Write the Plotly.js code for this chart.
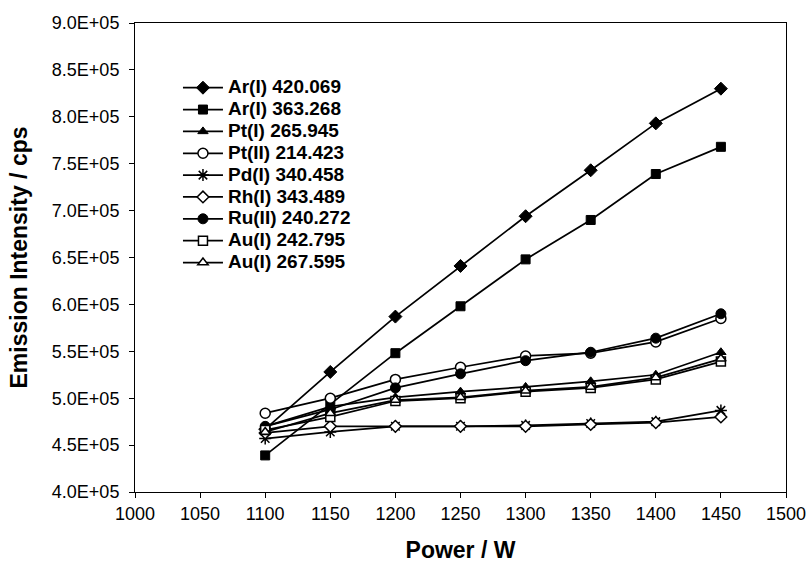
<!DOCTYPE html>
<html>
<head>
<meta charset="utf-8">
<script src="https://cdn.plot.ly/plotly-3.0.1.min.js"></script>
<style>html,body{margin:0;padding:0;background:#fff;}#chart{width:810px;height:563px;}</style>
</head>
<body>
<div id="chart"></div>
<script>
// Data
var power = [1100, 1150, 1200, 1250, 1300, 1350, 1400, 1450];
var ar420 = [467000, 528000, 587000, 641000, 694000, 743000, 793000, 830000];
var ar363 = [439000, 493000, 548000, 598000, 648000, 690000, 739000, 768000];
var pt265 = [470000, 491000, 501000, 507000, 512000, 518000, 525000, 549000];
var pt214 = [484000, 500000, 520000, 533000, 545000, 548000, 560000, 585000];
var pd340 = [457000, 464000, 470000, 470000, 471000, 473000, 475000, 487000];
var rh343 = [463000, 470000, 470000, 470000, 470000, 472000, 474000, 480000];
var ru240 = [470000, 488000, 511000, 526000, 540000, 549000, 564000, 590000];
var au242 = [466000, 480000, 497000, 500000, 507000, 511000, 520000, 539000];
var au267 = [464000, 484000, 498000, 501000, 508000, 512000, 522000, 542000];

var seriesNames = ["Ar(I) 420.069", "Ar(I) 363.268", "Pt(I) 265.945", "Pt(II) 214.423",
                   "Pd(I) 340.458", "Rh(I) 343.489", "Ru(II) 240.272", "Au(I) 242.795", "Au(I) 267.595"];
var seriesValues = [ar420, ar363, pt265, pt214, pd340, rh343, ru240, au242, au267];

var yTickVals = [400000, 450000, 500000, 550000, 600000, 650000, 700000, 750000, 800000, 850000, 900000];
var yTickText = ["4.0E+05", "4.5E+05", "5.0E+05", "5.5E+05", "6.0E+05", "6.5E+05", "7.0E+05", "7.5E+05", "8.0E+05", "8.5E+05", "9.0E+05"];

// Styles
var markerStyles = [
  {symbol: 'diamond', size: 10, color: '#000', line: {color: '#000', width: 1}},
  {symbol: 'square', size: 9, color: '#000', line: {color: '#000', width: 1}},
  {symbol: 'triangle-up', size: 9, color: '#000', line: {color: '#000', width: 1}},
  {symbol: 'circle', size: 10, color: '#fff', line: {color: '#000', width: 1.5}},
  {symbol: 'asterisk-open', size: 10, color: '#000', line: {color: '#000', width: 1.5}},
  {symbol: 'diamond', size: 9, color: '#fff', line: {color: '#000', width: 1.5}},
  {symbol: 'circle', size: 10, color: '#000', line: {color: '#000', width: 1}},
  {symbol: 'square', size: 9, color: '#fff', line: {color: '#000', width: 1.5}},
  {symbol: 'triangle-up', size: 9, color: '#fff', line: {color: '#000', width: 1.5}}
];

var traces = seriesNames.map(function (nm, i) {
  return {
    type: 'scatter',
    mode: 'lines+markers',
    x: power,
    y: seriesValues[i],
    name: '<span style="font-size:19px"><b>' + nm + '</b></span>',
    line: {color: '#000', width: 1.75},
    marker: markerStyles[i]
  };
});

var FONT = 'Arial, "Liberation Sans", sans-serif';
var layout = {
  width: 810,
  height: 563,
  margin: {l: 135, r: 24, t: 23, b: 71},
  paper_bgcolor: '#fff',
  plot_bgcolor: '#fff',
  font: {family: FONT, color: '#000', size: 18},
  showlegend: true,
  legend: {
    x: 0.066, y: 0.896, xanchor: 'left', yanchor: 'top',
    bgcolor: 'rgba(0,0,0,0)',
    font: {family: FONT, size: 14.5, color: '#000'},
    itemwidth: 40,
    tracegroupgap: 0
  },
  xaxis: {
    range: [1000, 1500],
    dtick: 50,
    tick0: 1000,
    showgrid: false,
    zeroline: false,
    showline: true,
    linecolor: '#000',
    linewidth: 1,
    mirror: true,
    ticks: 'outside',
    ticklen: 5,
    tickcolor: '#000',
    tickfont: {family: FONT, size: 18, color: '#000'},
    title: {text: '<b>Power / W</b>', font: {family: FONT, size: 23, color: '#000'}, standoff: 20}
  },
  yaxis: {
    range: [400000, 900000],
    tickvals: yTickVals,
    ticktext: yTickText,
    showgrid: false,
    zeroline: false,
    showline: true,
    linecolor: '#000',
    linewidth: 1,
    mirror: true,
    ticks: 'outside',
    ticklen: 5,
    tickcolor: '#000',
    tickfont: {family: FONT, size: 18, color: '#000'},
    ticklabelstandoff: 6,
    title: {text: '<b>Emission Intensity / cps</b>', font: {family: FONT, size: 23, color: '#000'}, standoff: 17}
  }
};

Plotly.newPlot('chart', traces, layout, {displayModeBar: false, staticPlot: true});
</script>
</body>
</html>
